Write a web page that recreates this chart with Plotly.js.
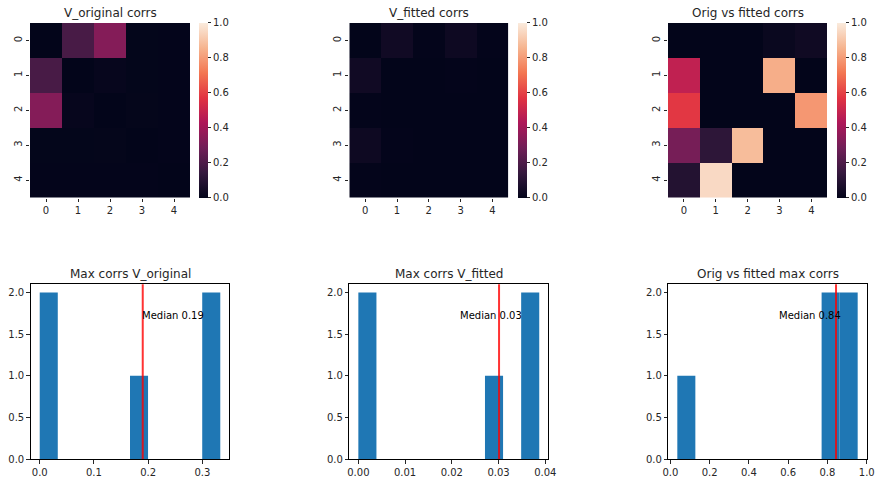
<!DOCTYPE html>
<html>
<head>
<meta charset="utf-8">
<script src="https://cdn.plot.ly/plotly-3.0.1.min.js"></script>
<style>
html,body{margin:0;padding:0;background:#fff;}
#chart{width:882px;height:482px;}
</style>
</head>
<body>
<div id="chart"></div>
<script>
// ---- data ----
var cellLabels = [0, 1, 2, 3, 4];

var vOriginalCorrs = [
  [0.000, 0.190, 0.333, 0.004, 0.002],
  [0.190, 0.000, 0.010, 0.004, 0.003],
  [0.333, 0.010, 0.000, 0.005, 0.003],
  [0.004, 0.004, 0.005, 0.000, 0.002],
  [0.002, 0.003, 0.003, 0.002, 0.000]
];
var vFittedCorrs = [
  [0.000, 0.039, 0.002, 0.030, 0.003],
  [0.039, 0.000, 0.001, 0.002, 0.001],
  [0.002, 0.001, 0.000, 0.001, 0.000],
  [0.030, 0.002, 0.001, 0.000, 0.001],
  [0.003, 0.001, 0.000, 0.001, 0.000]
];
var origVsFittedCorrs = [
  [0.000, 0.000, 0.000, 0.020, 0.036],
  [0.480, 0.000, 0.000, 0.844, 0.000],
  [0.580, 0.000, 0.000, 0.000, 0.790],
  [0.300, 0.120, 0.880, 0.000, 0.000],
  [0.090, 0.954, 0.000, 0.000, 0.000]
];

var maxCorrsOriginal = [0.000, 0.002, 0.190, 0.333, 0.333];
var maxCorrsFitted = [0.000, 0.0005, 0.0301, 0.0387, 0.0387];
var maxCorrsOrigVsFitted = [0.0356, 0.790, 0.8437, 0.880, 0.954];

var heatTitles = ["V_original corrs", "V_fitted corrs", "Orig vs fitted corrs"];
var histTitles = ["Max corrs V_original", "Max corrs V_fitted", "Orig vs fitted max corrs"];
var medianLabels = ["Median 0.19", "Median 0.03", "Median 0.84"];
var medianValues = [0.19, 0.0301, 0.8437];
var medianTextX = [0.187, 0.0216, 0.548];
var cbTicks = [0, 0.2, 0.4, 0.6, 0.8, 1.0];

// ---- helpers ----
var W = 882, H = 482;
function fx(p){ return p / W; }
function fy(p){ return 1 - p / H; }

var rocket = [
  [0, '#03051a'], [1/7, '#35193e'], [2/7, '#701f57'], [3/7, '#ad1759'],
  [4/7, '#e13342'], [5/7, '#f37651'], [6/7, '#f6b48f'], [1, '#faebdd']
];

function histogram(vals, nb){
  var m = Math.min.apply(null, vals), M = Math.max.apply(null, vals);
  var w = (M - m) / nb;
  var counts = new Array(nb).fill(0);
  vals.forEach(function(v){
    var i = Math.floor((v - m) / w);
    if (i >= nb) i = nb - 1;
    if (i < 0) i = 0;
    counts[i]++;
  });
  var centers = [], xs = [], ys = [];
  for (var i = 0; i < nb; i++){
    if (counts[i] > 0){ xs.push(m + (i + 0.5) * w); ys.push(counts[i]); }
  }
  return {x: xs, y: ys, w: w, min: m, max: M};
}

var font = {family: 'DejaVu Sans, sans-serif', size: 10, color: '#262626'};
var heatX = [[30, 190], [349.3, 508.3], [668, 827.3]];
var cbX = [199, 518.3, 836.7];
var heatY = [23, 197.5];
var histX = [[30.7, 229.3], [349.3, 548.3], [668.3, 866.7]];
var histY = [284.3, 459];

var mats = [vOriginalCorrs, vFittedCorrs, origVsFittedCorrs];
var hvals = [maxCorrsOriginal, maxCorrsFitted, maxCorrsOrigVsFitted];
var traces = [], layout = {
  width: W, height: H, margin: {l: 0, r: 0, t: 0, b: 0},
  paper_bgcolor: '#fff', plot_bgcolor: '#fff', showlegend: false,
  font: font, annotations: [], shapes: []
};

for (var k = 0; k < 3; k++){
  var ax = k + 1;
  var xa = 'xaxis' + (ax === 1 ? '' : ax), ya = 'yaxis' + (ax === 1 ? '' : ax);
  traces.push({
    type: 'heatmap', z: mats[k], x: cellLabels, y: cellLabels,
    xaxis: 'x' + (ax === 1 ? '' : ax), yaxis: 'y' + (ax === 1 ? '' : ax),
    colorscale: rocket, zmin: 0, zmax: 1, showscale: true,
    colorbar: {
      x: fx(cbX[k]), xanchor: 'left', xpad: 0, ypad: 0,
      y: fy(heatY[1]), yanchor: 'bottom', len: (heatY[1] - heatY[0]) / H, lenmode: 'fraction',
      thickness: 8.5, thicknessmode: 'pixels', outlinewidth: 0,
      tickvals: cbTicks, tickformat: '.1f', ticks: 'outside', ticklen: 3.5, tickwidth: 1,
      tickcolor: '#262626', tickfont: font
    },
    hoverinfo: 'skip'
  });
  layout[xa] = {
    domain: [fx(heatX[k][0]), fx(heatX[k][1])], anchor: 'y' + (ax === 1 ? '' : ax),
    range: [-0.5, 4.5], tickvals: cellLabels, ticks: 'outside', ticklen: 3.5, tickcolor: '#262626',
    showgrid: false, zeroline: false, showline: false, tickfont: font
  };
  layout[ya] = {
    domain: [fy(heatY[1]), fy(heatY[0])], anchor: 'x' + (ax === 1 ? '' : ax),
    range: [4.5, -0.5], tickvals: cellLabels, ticks: 'outside', ticklen: 3.5, tickcolor: '#262626',
    tickangle: -90, showgrid: false, zeroline: false, showline: false, tickfont: font
  };
  layout.annotations.push({
    text: heatTitles[k], xref: 'paper', yref: 'paper', showarrow: false,
    x: fx((heatX[k][0] + heatX[k][1]) / 2), y: fy(12.5), xanchor: 'center', yanchor: 'middle',
    font: {family: 'DejaVu Sans, sans-serif', size: 12, color: '#262626'}
  });
}

for (var k = 0; k < 3; k++){
  var ax = k + 4;
  var h = histogram(hvals[k], 10);
  var pad = 0.05 * (h.max - h.min);
  traces.push({
    type: 'bar', x: h.x, y: h.y, width: h.w,
    xaxis: 'x' + ax, yaxis: 'y' + ax,
    marker: {color: '#1f77b4', line: {width: 0}}, hoverinfo: 'skip'
  });
  layout['xaxis' + ax] = {
    domain: [fx(histX[k][0]), fx(histX[k][1])], anchor: 'y' + ax,
    range: [h.min - pad, h.max + pad], ticks: 'outside', ticklen: 3.5, tickcolor: '#262626',
    showline: true, mirror: true, linecolor: '#000', linewidth: 1,
    showgrid: false, zeroline: false, tickfont: font,
    dtick: [0.1, 0.01, 0.2][k], tickformat: ['.1f', '.2f', '.1f'][k]
  };
  layout['yaxis' + ax] = {
    domain: [fy(histY[1]), fy(histY[0])], anchor: 'x' + ax,
    range: [0, 2.1], dtick: 0.5, tickformat: '.1f', ticks: 'outside', ticklen: 3.5, tickcolor: '#262626',
    showline: true, mirror: true, linecolor: '#000', linewidth: 1,
    showgrid: false, zeroline: false, tickfont: font
  };
  layout.shapes.push({
    type: 'line', xref: 'x' + ax, yref: 'y' + ax + ' domain',
    x0: medianValues[k], x1: medianValues[k], y0: 0, y1: 1,
    line: {color: 'rgba(255,0,0,0.8)', width: 2}
  });
  layout.annotations.push({
    text: medianLabels[k], xref: 'x' + ax, yref: 'y' + ax, showarrow: false,
    x: medianTextX[k], y: 1.72, xanchor: 'left', yanchor: 'middle', borderpad: 0,
    font: {family: 'DejaVu Sans, sans-serif', size: 10, color: '#000'}
  });
  layout.annotations.push({
    text: histTitles[k], xref: 'paper', yref: 'paper', showarrow: false,
    x: fx((histX[k][0] + histX[k][1]) / 2), y: fy(274), xanchor: 'center', yanchor: 'middle',
    font: {family: 'DejaVu Sans, sans-serif', size: 12, color: '#262626'}
  });
}

Plotly.newPlot('chart', traces, layout, {staticPlot: true, displayModeBar: false});
</script>
</body>
</html>
